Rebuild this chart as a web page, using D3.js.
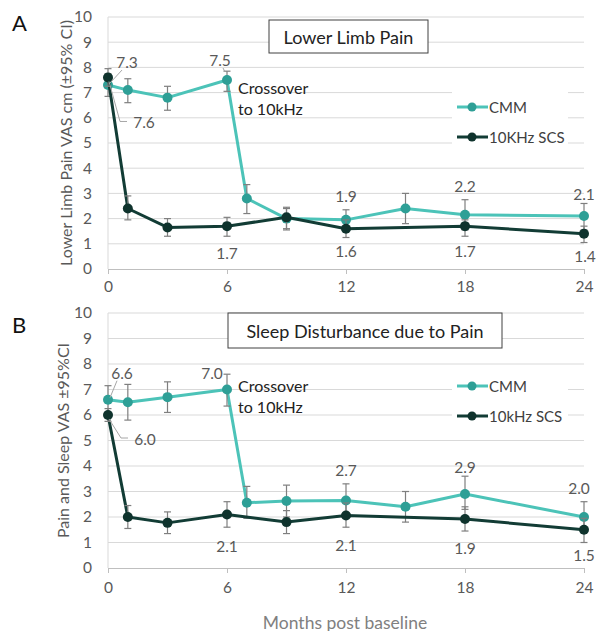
<!DOCTYPE html>
<html><head><meta charset="utf-8">
<script src="https://cdn.jsdelivr.net/npm/d3@7"></script>
<style>
body{margin:0;background:#fff;}
svg{display:block;font-family:Lato,"Open Sans",sans-serif;}
</style></head>
<body>
<svg id="chart" width="602" height="631"></svg>
<script>
// ---------------- DATA ----------------
const monthTicks = [0, 6, 12, 18, 24];
const yTicks = [0,1,2,3,4,5,6,7,8,9,10];
const monthsCMM = [0, 1, 3, 6, 7, 9, 12, 15, 18, 24];
const monthsSCS = [0, 1, 3, 6, 9, 12, 18, 24];

// Panel A: Lower limb pain
const painCMM   = [7.3, 7.1, 6.8, 7.5, 2.8, 2.0, 1.95, 2.4, 2.15, 2.1];
const painCMMLo = [6.85, 6.6, 6.3, 7.05, 2.2, 1.6, 1.55, 1.8, 1.55, 1.55];
const painCMMHi = [7.75, 7.55, 7.25, 7.85, 3.35, 2.4, 2.35, 3.0, 2.75, 2.6];
const painSCS   = [7.6, 2.4, 1.65, 1.7, 2.05, 1.6, 1.7, 1.4];
const painSCSLo = [7.25, 1.95, 1.3, 1.3, 1.55, 1.25, 1.3, 1.05];
const painSCSHi = [7.95, 2.9, 2.0, 2.05, 2.45, 1.95, 1.95, 1.7];

// Panel B: Sleep disturbance
const sleepCMM   = [6.6, 6.5, 6.7, 7.0, 2.56, 2.63, 2.65, 2.4, 2.9, 2.0];
const sleepCMMLo = [6.1, 5.8, 6.1, 6.35, 1.95, 2.0, 2.0, 1.8, 2.3, 1.4];
const sleepCMMHi = [7.15, 7.2, 7.3, 7.6, 3.2, 3.25, 3.3, 3.0, 3.6, 2.6];
const sleepSCS   = [6.0, 2.0, 1.77, 2.1, 1.8, 2.06, 1.92, 1.5];
const sleepSCSLo = [5.75, 1.55, 1.35, 1.6, 1.35, 1.6, 1.45, 1.0];
const sleepSCSHi = [6.25, 2.45, 2.2, 2.6, 2.25, 2.55, 2.4, 1.95];

// data labels: [series, month, text]
const painLabels  = [["CMM",0,"7.3"],["SCS",0,"7.6"],["CMM",6,"7.5"],["SCS",6,"1.7"],["CMM",12,"1.9"],["SCS",12,"1.6"],["CMM",18,"2.2"],["SCS",18,"1.7"],["CMM",24,"2.1"],["SCS",24,"1.4"]];
const sleepLabels = [["CMM",0,"6.6"],["SCS",0,"6.0"],["CMM",6,"7.0"],["SCS",6,"2.1"],["CMM",12,"2.7"],["SCS",12,"2.1"],["CMM",18,"2.9"],["SCS",18,"1.9"],["CMM",24,"2.0"],["SCS",24,"1.5"]];
// ---------------- STYLE ----------------
const painLabelOff  = [[19,-23,"lead1"],[36,45,"lead2"],[-7,-20,"lead3"],[0,27],[0,-24],[0,22],[0,-29],[0,25],[0,-22],[1,22]];
const sleepLabelOff = [[14,-27,"lead1"],[37,24,"lead2"],[-15,-17],[0,32],[0,-30],[0,30],[0,-27],[0,29],[-5,-29],[0,25]];

const C_CMM_LINE = "#4cc3b8", C_CMM_DOT = "#2e9f96";
const C_SCS_LINE = "#123c35", C_SCS_DOT = "#0f332d";

const panels = [
  {letter:"A", title:"Lower Limb Pain", ytitle:"Lower Limb Pain VAS cm (±95% CI)",
   top:17, bottom:269, cmm:painCMM, cmmLo:painCMMLo, cmmHi:painCMMHi,
   scs:painSCS, scsLo:painSCSLo, scsHi:painSCSHi, legend2:"10KHz SCS",
   labels:painLabels, off:painLabelOff, titleBox:[269,20,159,33], legY:107,
   crossY:87, ytitleX:65, letterY:31, xlabY:292},
  {letter:"B", title:"Sleep Disturbance due to Pain", ytitle:"Pain and Sleep VAS ±95%CI",
   top:313, bottom:568, cmm:sleepCMM, cmmLo:sleepCMMLo, cmmHi:sleepCMMHi,
   scs:sleepSCS, scsLo:sleepSCSLo, scsHi:sleepSCSHi, legend2:"10kHz SCS",
   labels:sleepLabels, off:sleepLabelOff, titleBox:[228,313,274,35], legY:386,
   crossY:385, ytitleX:62, letterY:333, xlabY:593}
];

const svg = d3.select("#chart");
const x = d3.scaleLinear().domain([0,24]).range([108,584]);

panels.forEach(p => {
  const y = d3.scaleLinear().domain([0,10]).range([p.bottom, p.top]);
  const g = svg.append("g");

  // gridlines
  g.selectAll(".grid").data(yTicks.filter(d=>d>0)).join("line")
    .attr("x1",x(0)).attr("x2",x(24)).attr("y1",d=>y(d)).attr("y2",d=>y(d))
    .attr("stroke","#d9d9d9").attr("stroke-width",1);
  // left axis line
  g.append("line").attr("x1",x(0)).attr("x2",x(0)).attr("y1",y(0)).attr("y2",y(10))
    .attr("stroke","#d9d9d9");

  // y axis labels
  const ya = g.append("g").attr("transform",`translate(${x(0)},0)`)
    .call(d3.axisLeft(y).tickValues(yTicks).tickSize(0).tickPadding(16).tickFormat(d3.format("d")));
  ya.select(".domain").remove();
  ya.selectAll("text").attr("font-family","Lato,sans-serif").attr("font-size",15.5).attr("fill","#595959");

  // x axis
  const xa = g.append("g").attr("transform",`translate(0,${y(0)})`)
    .call(d3.axisBottom(x).tickValues(monthTicks).tickSize(5).tickPadding(p.xlabY-y(0)-16).tickFormat(d3.format("d")));
  xa.select(".domain").attr("stroke","#bfbfbf");
  xa.selectAll(".tick line").attr("stroke","#bfbfbf");
  xa.selectAll("text").attr("font-family","Lato,sans-serif").attr("font-size",15.5).attr("fill","#595959");

  // y title
  g.append("text").attr("transform",`translate(${p.ytitleX},${(y(0)+y(10))/2}) rotate(-90)`)
    .attr("text-anchor","middle").attr("dominant-baseline","central")
    .attr("font-size",16).attr("fill","#595959").text(p.ytitle);

  // panel letter
  g.append("text").attr("x",12).attr("y",p.letterY).attr("font-size",22).attr("fill","#111").text(p.letter);

  // title box
  const [bx,by,bw,bh] = p.titleBox;
  g.append("rect").attr("x",bx).attr("y",by).attr("width",bw).attr("height",bh)
    .attr("fill","#fff").attr("stroke","#404040").attr("stroke-width",1);
  g.append("text").attr("x",bx+bw/2).attr("y",by+bh/2).attr("text-anchor","middle")
    .attr("dominant-baseline","central").attr("font-size",18).attr("fill","#222").text(p.title);

  // crossover text
  g.append("text").attr("x",x(6)+11).attr("y",p.crossY).attr("dominant-baseline","central")
    .attr("font-size",16).attr("fill","#222").text("Crossover");
  g.append("text").attr("x",x(6)+11).attr("y",p.crossY+21).attr("dominant-baseline","central")
    .attr("font-size",16).attr("fill","#222").text("to 10kHz");

  // legend
  g.append("rect").attr("x",452).attr("y",p.legY-18).attr("width",116).attr("height",58).attr("fill","#fff");
  [[C_CMM_LINE,C_CMM_DOT,"CMM",0],[C_SCS_LINE,C_SCS_DOT,p.legend2,30]].forEach(([lc,dc,t,dy])=>{
    g.append("line").attr("x1",457).attr("x2",488).attr("y1",p.legY+dy).attr("y2",p.legY+dy)
      .attr("stroke",lc).attr("stroke-width",3);
    g.append("circle").attr("cx",472).attr("cy",p.legY+dy).attr("r",4.5).attr("fill",dc);
    g.append("text").attr("x",489).attr("y",p.legY+dy).attr("dominant-baseline","central")
      .attr("font-size",15).attr("fill","#404040").text(t);
  });

  const cmm = monthsCMM.map((m,i)=>({m, v:p.cmm[i], lo:p.cmmLo[i], hi:p.cmmHi[i]}));
  const scs = monthsSCS.map((m,i)=>({m, v:p.scs[i], lo:p.scsLo[i], hi:p.scsHi[i]}));

  const line = d3.line().x(d=>x(d.m)).y(d=>y(d.v));
  const drawSeries = (data, lc, dc) => {
    g.append("path").datum(data).attr("d",line).attr("fill","none")
      .attr("stroke",lc).attr("stroke-width",3).attr("stroke-linejoin","round");
    const eb = g.append("g").selectAll("g").data(data).join("g").attr("stroke","#7f7f7f").attr("stroke-width",1.2);
    eb.append("line").attr("x1",d=>x(d.m)).attr("x2",d=>x(d.m)).attr("y1",d=>y(d.lo)).attr("y2",d=>y(d.hi));
    eb.append("line").attr("x1",d=>x(d.m)-3.5).attr("x2",d=>x(d.m)+3.5).attr("y1",d=>y(d.lo)).attr("y2",d=>y(d.lo));
    eb.append("line").attr("x1",d=>x(d.m)-3.5).attr("x2",d=>x(d.m)+3.5).attr("y1",d=>y(d.hi)).attr("y2",d=>y(d.hi));
    g.append("g").selectAll("circle").data(data).join("circle")
      .attr("cx",d=>x(d.m)).attr("cy",d=>y(d.v)).attr("r",5).attr("fill",dc);
  };
  drawSeries(cmm, C_CMM_LINE, C_CMM_DOT);
  drawSeries(scs, C_SCS_LINE, C_SCS_DOT);

  // data labels
  p.labels.forEach((lab,i)=>{
    const [ser,m,t] = lab;
    const arr = ser==="CMM" ? cmm : scs;
    const d = arr.find(e=>e.m===m);
    const px = x(d.m), py = y(d.v);
    const [dx,dy,lead] = p.off[i];
    const lx = px+dx, ly = py+dy;
    g.append("text").attr("x",lx).attr("y",ly).attr("text-anchor","middle")
      .attr("dominant-baseline","central").attr("font-size",15.5).attr("fill","#595959").text(t);
    if (lead==="lead1") {
      g.append("polyline").attr("points",`${px+2},${py-2} ${lx-5},${ly+8}`)
        .attr("fill","none").attr("stroke","#a6a6a6").attr("stroke-width",1);
    } else if (lead==="lead2") {
      g.append("polyline").attr("points",`${px+1},${py+4} ${lx-24},${ly-1} ${lx-17},${ly-1}`)
        .attr("fill","none").attr("stroke","#a6a6a6").attr("stroke-width",1);
    } else if (lead==="lead3") {
      g.append("line").attr("x1",px-2).attr("y1",py-8).attr("x2",px-4).attr("y2",py-12)
        .attr("stroke","#a6a6a6").attr("stroke-width",1);
    }
  });
});

// x title
svg.append("text").attr("x",345).attr("y",622).attr("text-anchor","middle")
  .attr("dominant-baseline","central").attr("font-size",17.5).attr("fill","#808080").text("Months post baseline");
</script>
</body></html>
